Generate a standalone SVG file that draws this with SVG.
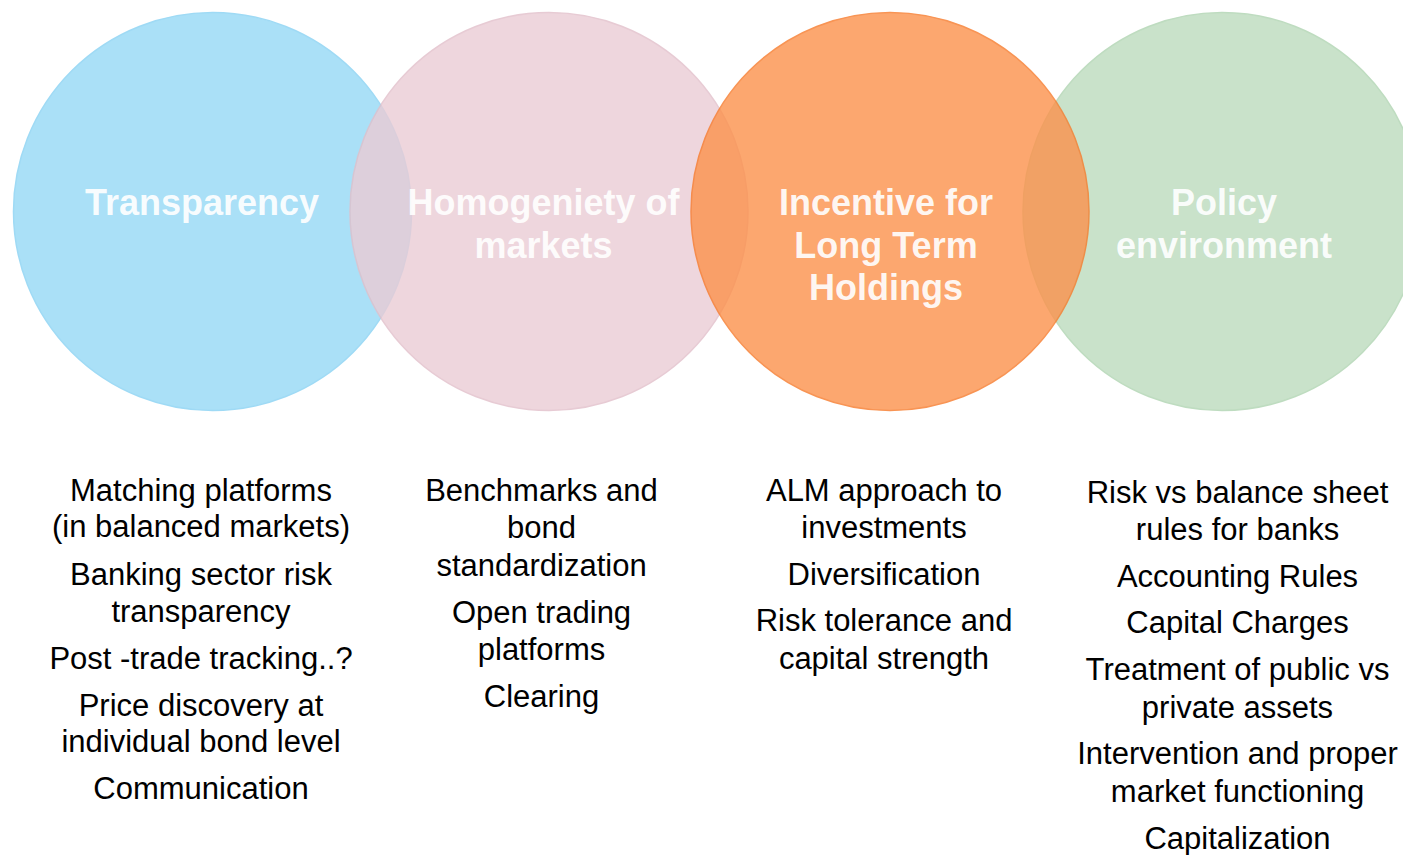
<svg xmlns="http://www.w3.org/2000/svg" width="1403" height="855" viewBox="0 0 1403 855">
<style>
.c{stroke-width:1.5;opacity:0.8}
.h{font-family:"Liberation Sans",Arial,sans-serif;font-weight:bold;font-size:36px;fill:#ffffff;fill-opacity:0.92;text-anchor:middle}
.t{font-family:"Liberation Sans",Arial,sans-serif;font-size:31px;fill:#000000;text-anchor:middle}
</style>
<rect width="1403" height="855" fill="#ffffff"/>
<g id="circles">
<circle id="c-transparency" class="c" cx="212.5" cy="211.5" r="199" fill="#95d9f6" stroke="#88d2f3"/>
<circle id="c-homogeneity" class="c" cx="549" cy="211.5" r="199" fill="#eaccd5" stroke="#e2bfca"/>
<circle id="c-policy" class="c" cx="1222" cy="211.5" r="199" fill="#bcdbbd" stroke="#afd4b1"/>
<circle id="c-incentive" class="c" cx="890" cy="211.5" r="199" fill="#fc924c" stroke="#f77a2a"/>
</g>
<g id="transparency">
<text class="h" x="202" y="215">Transparency</text>
<text class="t" x="201" y="501">Matching platforms</text>
<text class="t" x="201" y="537">(in balanced markets)</text>
<text class="t" x="201" y="585">Banking sector risk</text>
<text class="t" x="201" y="622">transparency</text>
<text class="t" x="201" y="669">Post -trade tracking..?</text>
<text class="t" x="201" y="716">Price discovery at</text>
<text class="t" x="201" y="752">individual bond level</text>
<text class="t" x="201" y="799">Communication</text>
</g>
<g id="homogeneity">
<text class="h" x="543.5" y="215">Homogeniety of</text>
<text class="h" x="543.5" y="258">markets</text>
<text class="t" x="541.5" y="501">Benchmarks and</text>
<text class="t" x="541.5" y="538">bond</text>
<text class="t" x="541.5" y="576">standardization</text>
<text class="t" x="541.5" y="623">Open trading</text>
<text class="t" x="541.5" y="660">platforms</text>
<text class="t" x="541.5" y="707">Clearing</text>
</g>
<g id="incentive">
<text class="h" x="886" y="215">Incentive for</text>
<text class="h" x="886" y="258">Long Term</text>
<text class="h" x="886" y="300">Holdings</text>
<text class="t" x="884" y="501">ALM approach to</text>
<text class="t" x="884" y="538">investments</text>
<text class="t" x="884" y="585">Diversification</text>
<text class="t" x="884" y="631">Risk tolerance and</text>
<text class="t" x="884" y="669">capital strength</text>
</g>
<g id="policy">
<text class="h" x="1224" y="215">Policy</text>
<text class="h" x="1224" y="258">environment</text>
<text class="t" x="1237.5" y="503">Risk vs balance sheet</text>
<text class="t" x="1237.5" y="540">rules for banks</text>
<text class="t" x="1237.5" y="587">Accounting Rules</text>
<text class="t" x="1237.5" y="633">Capital Charges</text>
<text class="t" x="1237.5" y="680">Treatment of public vs</text>
<text class="t" x="1237.5" y="718">private assets</text>
<text class="t" x="1237.5" y="764">Intervention and proper</text>
<text class="t" x="1237.5" y="802">market functioning</text>
<text class="t" x="1237.5" y="849">Capitalization</text>
</g>
</svg>
